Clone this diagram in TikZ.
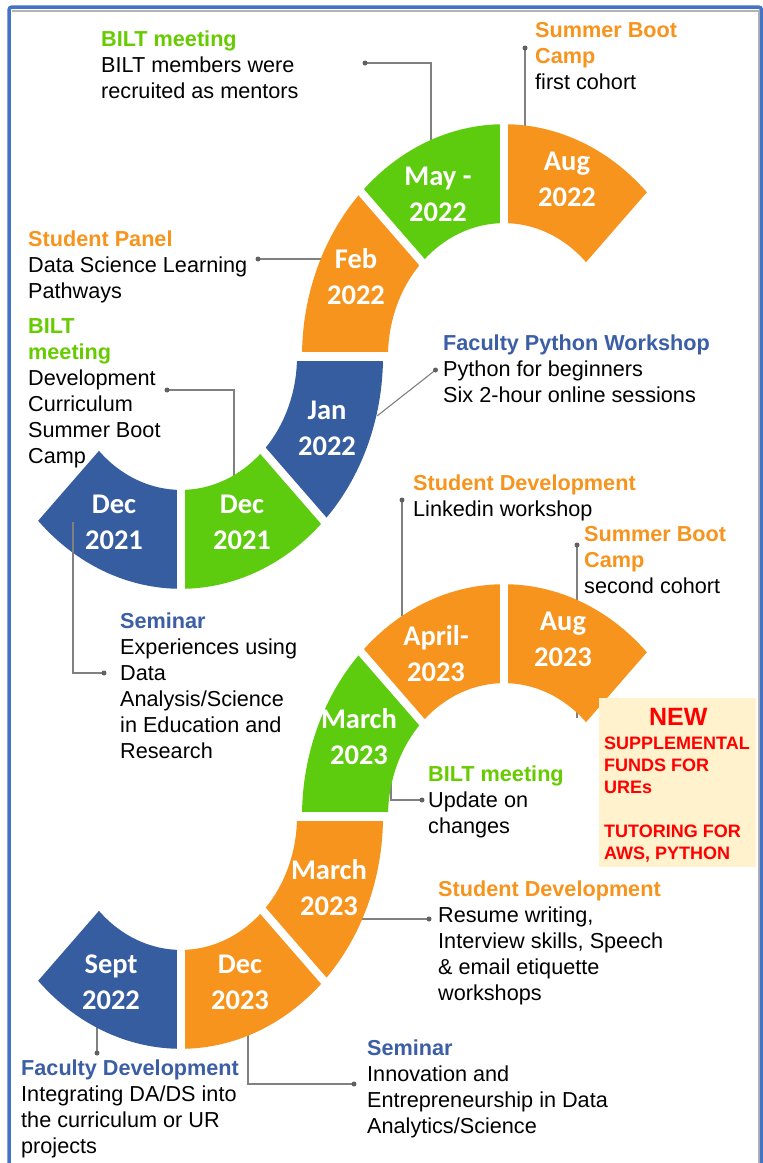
\documentclass[tikz,border=0pt]{standalone}
\usepackage{fontspec}
\setmainfont{Liberation Sans}
\newfontfamily\labfont{Carlito}
\definecolor{cOrange}{RGB}{247,148,29}
\definecolor{cGreen}{RGB}{94,204,14}
\definecolor{cBlue}{RGB}{54,93,160}
\definecolor{hBlue}{RGB}{59,94,165}
\definecolor{hGreen}{RGB}{102,204,0}
\definecolor{frameBlue}{RGB}{68,114,196}
\definecolor{newFill}{RGB}{255,242,204}
\definecolor{newRed}{RGB}{255,0,0}
\newcommand\arcseg[5]{%
  \begin{scope}[shift={(#1,#2)}, x=1pt, y=1.15pt]
    \fill[#5] (#3:116) arc[start angle=#3, end angle=#4, radius=116]
      -- (#4:202) arc[start angle=#4, end angle=#3, radius=202] -- cycle;
  \end{scope}}
\newcommand\radcut[3]{%
  \begin{scope}[shift={(#1,#2)}, x=1pt, y=1.15pt]
    \draw[white, line width=8pt] (#3:110) -- (#3:208);
  \end{scope}}
\tikzset{
  txt/.style={anchor=base west, align=left, inner sep=0pt,
    font=\fontsize{21.65}{26}\selectfont},
  lab/.style={anchor=base, align=center, inner sep=0pt, text=white,
    font=\labfont\bfseries\fontsize{28.5}{36.5}\selectfont},
  conn/.style={draw=black!50, line width=1.1pt},
  cdot/.style={circle, fill=black!62, inner sep=0pt, minimum size=5pt},
}
\newcommand\hd[2]{\textcolor{#1}{\bfseries #2}}
\begin{document}
\begin{tikzpicture}[x=1pt, y=-1pt]
\useasboundingbox (0,0) rectangle (763,1163);
\clip (0,0) rectangle (763,1163);
\fill[white] (0,0) rectangle (763,1163);
% frame
\draw[black!30, line width=2pt] (12,10.5) -- (758.5,10.5) -- (758.5,1200);
\draw[frameBlue, line width=3.5pt, rounded corners=3pt] (9,1200) -- (9,7) -- (761.5,7) -- (761.5,1200);

% connector coordinates
\coordinate (p1d) at (365,63);    \coordinate (p1e) at (431,140);
\coordinate (p2d) at (525,48);    \coordinate (p2e) at (525,127);
\coordinate (p3d) at (258,259);   \coordinate (p3e) at (322,259);
\coordinate (p4d) at (167,390);   \coordinate (p4e) at (234,476);
\coordinate (p5d) at (435.5,370); \coordinate (p5e) at (377,416);
\coordinate (p6s) at (73,522);    \coordinate (p6d) at (104,673);
\coordinate (p7d) at (402,500);   \coordinate (p7e) at (402,616);
\coordinate (p8d) at (577,545);   \coordinate (p8e) at (577,718);
\coordinate (p9s) at (391,772);   \coordinate (p9d) at (422,800);
\coordinate (p10s) at (362,919);  \coordinate (p10d) at (429,919);
\coordinate (p11s) at (97,1026);  \coordinate (p11d) at (97,1053);
\coordinate (p12s) at (248,1033); \coordinate (p12d) at (354,1084);

% connectors behind shapes
\draw[conn] (p1d) -| (p1e);
\draw[conn] (p2d) -- (p2e);
\draw[conn] (p3d) -- (p3e);
\draw[conn] (p4d) -| (p4e);
\draw[conn] (p5d) -- (p5e);
\draw[conn] (p7d) -- (p7e);
\draw[conn] (p8d) -- (p8e);
\draw[conn] (p9s) |- (p9d);
\draw[conn] (p10s) -- (p10d);
\draw[conn] (p11s) -- (p11d);
\draw[conn] (p12s) |- (p12d);

% top S
\arcseg{504}{356.5}{180}{135}{cOrange}
\arcseg{504}{356.5}{135}{90}{cGreen}
\arcseg{504}{356.5}{90}{45}{cOrange}
\arcseg{181}{356.5}{0}{-45}{cBlue}
\arcseg{181}{356.5}{-45}{-90}{cGreen}
\arcseg{181}{356.5}{-90}{-135}{cBlue}
\radcut{504}{356.5}{135}
\radcut{504}{356.5}{90}
\radcut{181}{356.5}{-45}
\radcut{181}{356.5}{-90}
\draw[white, line width=9pt] (285,356.5) -- (400,356.5);

% bottom S
\arcseg{504}{816.5}{180}{135}{cGreen}
\arcseg{504}{816.5}{135}{90}{cOrange}
\arcseg{504}{816.5}{90}{45}{cOrange}
\arcseg{181}{816.5}{0}{-45}{cOrange}
\arcseg{181}{816.5}{-45}{-90}{cOrange}
\arcseg{181}{816.5}{-90}{-135}{cBlue}
\radcut{504}{816.5}{135}
\radcut{504}{816.5}{90}
\radcut{181}{816.5}{-45}
\radcut{181}{816.5}{-90}
\draw[white, line width=9pt] (285,816.5) -- (400,816.5);

% connector drawn over shape
\draw[conn] (p6s) |- (p6d);

% dots
\foreach \p in {p1d,p2d,p3d,p4d,p5d,p6d,p7d,p8d,p9d,p10d,p11d,p12d}
  \node[cdot] at (\p) {};

% segment labels (anchor = baseline of last line)
\node[lab] (lAug22) at (567,206.5) {Aug\\2022};
\node[lab] (lMay22) at (438,221.5) {May -\\2022};
\node[lab] (lFeb22) at (356,304.5) {Feb\\2022};
\node[lab] (lJan22) at (327,455.5) {Jan\\2022};
\node[lab] (lDec21g) at (242,549.5) {Dec\\2021};
\node[lab] (lDec21b) at (114,549.5) {Dec\\2021};
\node[lab] (lAug23) at (563,666.5) {Aug\\2023};
\node[lab] (lApr23) at (436,681.5) {April-\\2023};
\node[lab] (lMar23g) at (359,764.5) {March\\2023};
\node[lab] (lMar23o) at (329,915.5) {March\\2023};
\node[lab] (lDec23) at (240,1009.5) {Dec\\2023};
\node[lab] (lSep22) at (111,1009.5) {Sept\\2022};

% text blocks (anchor = baseline of last line)
\node[txt] (t1) at (101,98.7) {\hd{hGreen}{BILT meeting}\\BILT members were\\recruited as mentors};
\node[txt] (t2) at (535,89.5) {\hd{cOrange}{Summer Boot}\\\hd{cOrange}{Camp}\\first cohort};
\node[txt] (t3) at (28,298.7) {\hd{cOrange}{Student Panel}\\Data Science Learning\\Pathways};
\node[txt] (t4) at (28,463) {\hd{hGreen}{BILT}\\\hd{hGreen}{meeting}\\Development\\Curriculum\\Summer Boot\\Camp};
\node[txt] (t5) at (443,402) {\hd{hBlue}{Faculty Python Workshop}\\Python for beginners\\Six 2-hour online sessions};
\node[txt] (t6) at (413,516) {\hd{cOrange}{Student Development}\\Linkedin workshop};
\node[txt] (t7) at (584,593.7) {\hd{cOrange}{Summer Boot}\\\hd{cOrange}{Camp}\\second cohort};
\node[txt] (t8) at (120,758.3) {\hd{hBlue}{Seminar}\\Experiences using\\Data\\Analysis/Science\\in Education and\\Research};
\node[txt] (t9) at (428,833.7) {\hd{hGreen}{BILT meeting}\\Update on\\changes};
\node[txt] (t10) at (438,1000.5) {\hd{cOrange}{Student Development}\\Resume writing,\\Interview skills, Speech\\\& email etiquette\\workshops};
\node[txt] (t11) at (367,1133) {\hd{hBlue}{Seminar}\\Innovation and\\Entrepreneurship in Data\\Analytics/Science};
\node[txt] (t12) at (21,1153) {\hd{hBlue}{Faculty Development}\\Integrating DA/DS into\\the curriculum or UR\\projects};

% NEW box
\node[anchor=north west, fill=newFill, minimum width=157pt, minimum height=169pt, inner sep=0pt] (newbox) at (599,698) {};
\node[anchor=base, inner sep=0pt, text=newRed, font=\bfseries\fontsize{25}{30}\selectfont] (newt) at (678.3,725) {NEW};
\node[anchor=base west, align=left, inner sep=0pt, text=newRed, font=\bfseries\fontsize{18}{22}\selectfont] (newl) at (604,859) {SUPPLEMENTAL\\FUNDS FOR\\UREs\\[22pt]TUTORING FOR\\AWS, PYTHON};
\end{tikzpicture}
\end{document}
